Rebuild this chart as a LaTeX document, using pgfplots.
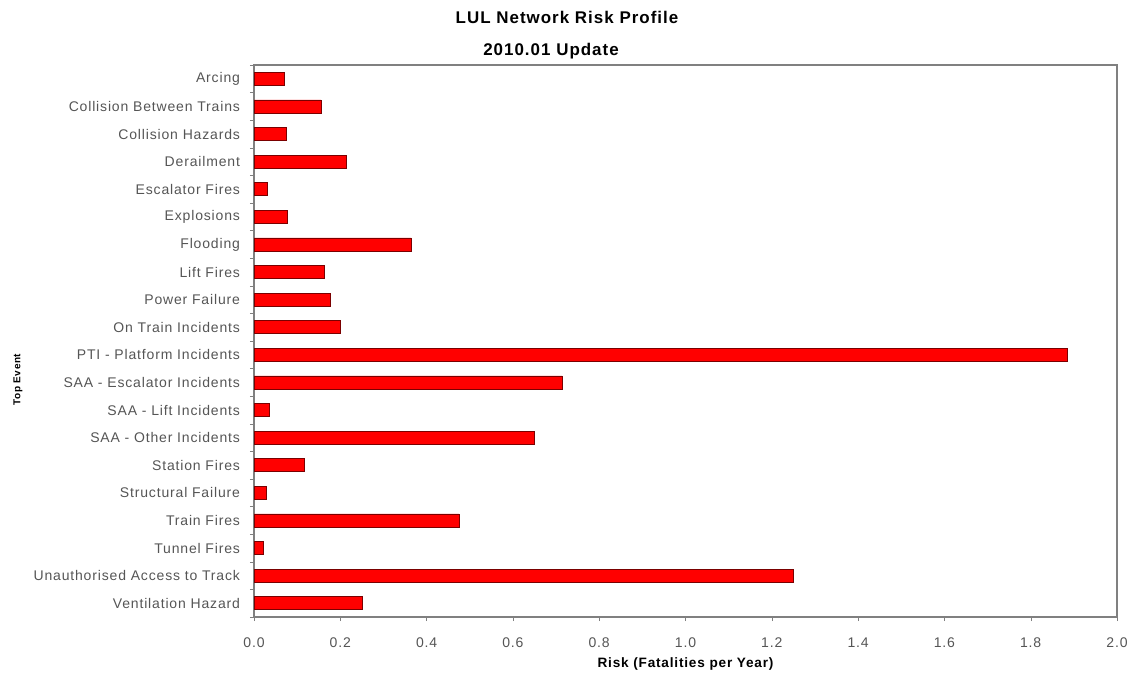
\documentclass[border=0pt]{standalone}
\usepackage{pgfplots}
\pgfplotsset{compat=1.18}
\usepackage{fontspec}
\setmainfont{Liberation Sans}[LetterSpace=6]
\definecolor{axgray}{HTML}{808080}
\definecolor{txt}{HTML}{555555}
\definecolor{barred}{HTML}{FF0000}
\definecolor{bardark}{HTML}{7A0000}
\begin{document}
\begin{tikzpicture}
\useasboundingbox (0,0) rectangle (847.5pt,505.5pt);
\begin{axis}[
  at={(190.5pt,42.75pt)}, anchor=south west,
  scale only axis, width=647.25pt, height=414pt,
  xbar, bar width=9.75pt,
  xmin=0, xmax=2.0,
  ymin=-0.5, ymax=19.5, y dir=reverse,
  xtick={0,0.2,...,2.0},
  ytick={0,...,19},
  yticklabels={Arcing,Collision Between Trains,Collision Hazards,Derailment,Escalator Fires,Explosions,Flooding,Lift Fires,Power Failure,On Train Incidents,PTI - Platform Incidents,SAA - Escalator Incidents,SAA - Lift Incidents,SAA - Other Incidents,Station Fires,Structural Failure,Train Fires,Tunnel Fires,Unauthorised Access to Track,Ventilation Hazard},
  extra y ticks={-0.5,0.5,...,19.5},
  extra y tick labels={},
  extra y tick style={ytick style={draw=axgray}},
  tick align=outside,
  major tick length=3pt,
  ytick style={draw=none},
  xtick style={draw=axgray},
  xtick pos=bottom, ytick pos=left,
  axis line style={draw=axgray, line width=0.9pt},
  /pgf/number format/.cd, fixed, fixed zerofill, precision=1, assume math mode=true,
  /pgfplots/.cd,
  ticklabel style={font=\fontsize{10.5}{12}\selectfont, text=txt},
  yticklabel style={xshift=-4pt},
  xticklabel style={yshift=-9pt},
  xlabel={Risk (Fatalities per Year)},
  xlabel style={font=\fontsize{10.2}{12}\selectfont\bfseries, at={(axis description cs:0.5,0)}, anchor=north, yshift=-27pt},
  ylabel={Top Event},
  ylabel style={font=\fontsize{7.5}{10}\selectfont\bfseries, at={(axis description cs:-0.2735,0.43)}, anchor=center, rotate=0},
  title={LUL Network Risk Profile\\2010.01 Update\hspace*{24pt}},
  title style={font=\fontsize{12.7}{24}\selectfont\bfseries, align=center, at={(axis description cs:0.3627,1)}, anchor=south, yshift=-5.3pt},
]
\addplot[fill=barred, draw=bardark, line width=0.5pt] coordinates {
(0.070,0) (0.155,1) (0.074,2) (0.213,3) (0.032,4) (0.077,5) (0.364,6) (0.162,7) (0.178,8) (0.200,9)
(1.884,10) (0.714,11) (0.035,12) (0.649,13) (0.116,14) (0.028,15) (0.475,16) (0.021,17) (1.249,18) (0.250,19)
};
\end{axis}
\end{tikzpicture}
\end{document}
